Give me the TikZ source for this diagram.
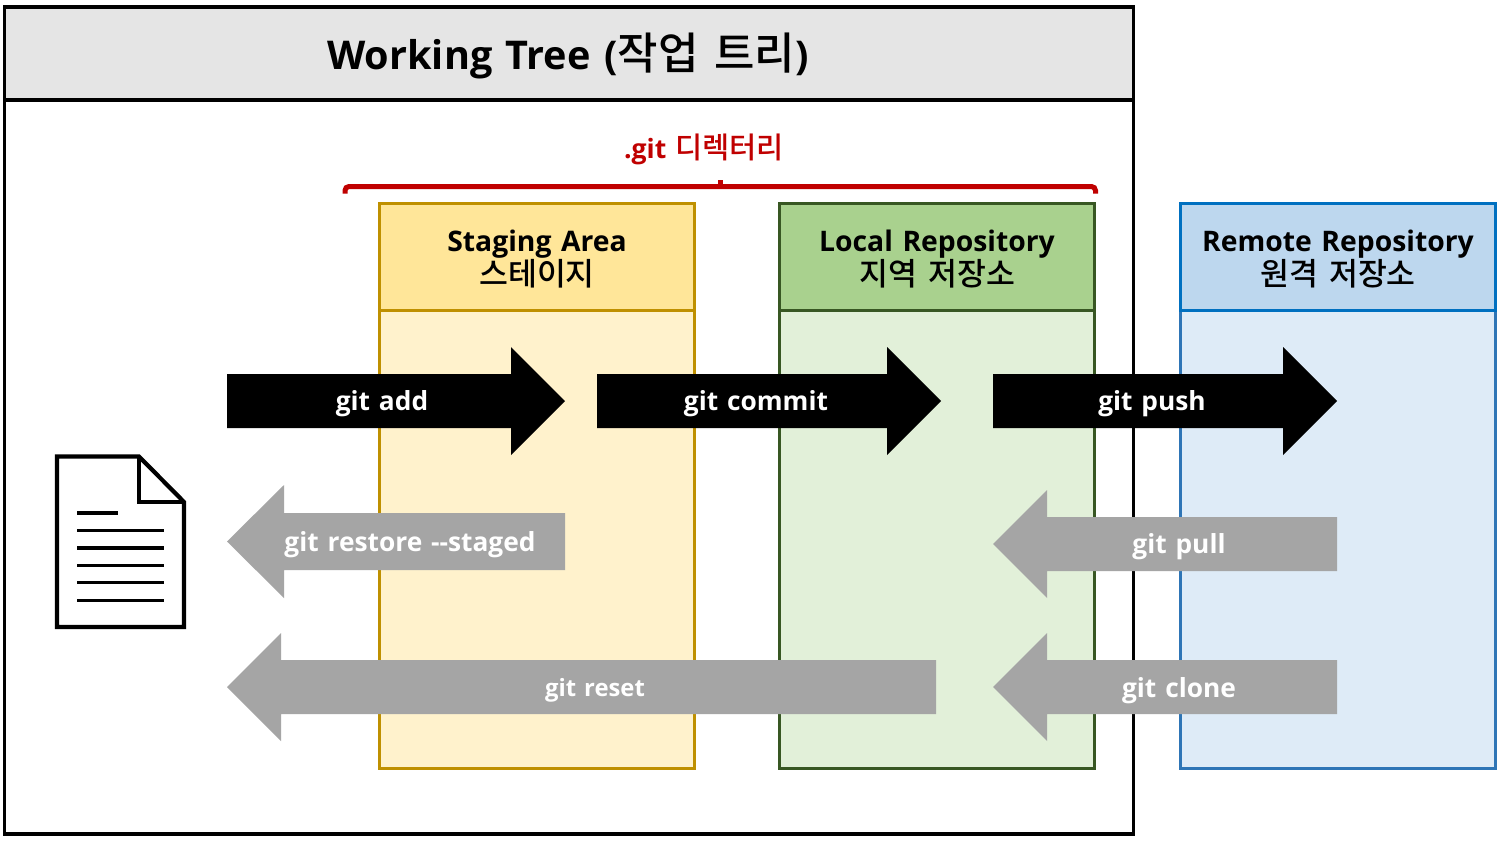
\documentclass[tikz,border=0pt]{standalone}
\usepackage{fontspec}
\setmainfont{Open Sans}[WordSpace=1.3]
\newfontfamily\kr{Noto Sans CJK KR}[Scale=1.11,WordSpace=1.6,BoldFont={Noto Sans CJK KR Medium}]
\definecolor{hdgray}{HTML}{E5E5E5}
\definecolor{sthd}{HTML}{FFE699}\definecolor{stbd}{HTML}{FFF2CC}\definecolor{stln}{HTML}{BF9000}
\definecolor{lohd}{HTML}{A9D18E}\definecolor{lobd}{HTML}{E2F0D9}\definecolor{loln}{HTML}{385723}
\definecolor{rehd}{HTML}{BDD7EE}\definecolor{rebd}{HTML}{DEEBF7}\definecolor{reln}{HTML}{2E75B6}\definecolor{rehl}{HTML}{0070C0}
\definecolor{redc}{HTML}{C00000}\definecolor{arrgray}{HTML}{A5A5A5}
\tikzset{
 x=1pt,y=-1pt,
 framebox/.style={draw,line width=3.4pt,inner sep=0pt},
 hdtext/.style={font=\fontsize{28.3}{33.5}\selectfont\bfseries,align=center,text=black,inner sep=0pt},
 arrlabel/.style={font=\fontsize{26.3}{30}\selectfont\bfseries,text=white,inner sep=0pt},
 blackarrow/.style={fill=black},
 grayarrow/.style={fill=arrgray},
 docline/.style={draw=black,line width=4.2pt,miter limit=10},
 textline/.style={draw=black,line width=3.8pt}
}
\begin{document}
\begin{tikzpicture}
\useasboundingbox (0,0) rectangle (1500,841);
\fill[white] (0,0) rectangle (1500,841);
% working tree
\draw[framebox,draw=black,fill=white] (4.5,7) rectangle (1133.5,834);
\draw[framebox,draw=black,fill=hdgray] (4.5,7) rectangle (1133.5,100);
\node[inner sep=0pt,font=\fontsize{39.6}{48}\selectfont\bfseries] (wt) at (568,55.5) {Working Tree ({\kr 작업 트리})};
% git bracket
\node[inner sep=0pt,text=redc,font=\fontsize{26.6}{30}\selectfont\bfseries] (gitdir) at (704,149) {.git {\kr 디렉터리}};
\draw[redc,line width=5pt,rounded corners=4pt] (345,193.5) -- (345,186.5) -- (1095.5,186.5) -- (1095.5,193.5);
\draw[redc,line width=5pt] (720,180) -- (720,186);
% staging
\draw[framebox,draw=stln,fill=stbd] (379.5,203.5) rectangle (694.5,768.5);
\draw[framebox,draw=stln,fill=sthd] (379.5,203.5) rectangle (694.5,310.5);
\node[hdtext] (st) at (537,259) {Staging Area\\{\kr 스테이지}};
% local
\draw[framebox,draw=loln,fill=lobd] (779.5,203.5) rectangle (1094.5,768.5);
\draw[framebox,draw=loln,fill=lohd] (779.5,203.5) rectangle (1094.5,310.5);
\node[hdtext] (lo) at (937,259) {Local Repository\\{\kr 지역 저장소}};
% remote
\draw[framebox,draw=reln,fill=rebd] (1180.5,203.5) rectangle (1495.5,768.5);
\draw[framebox,draw=rehl,fill=rehd] (1180.5,203.5) rectangle (1495.5,310.5);
\node[hdtext] (re) at (1338,259) {Remote Repository\\{\kr 원격 저장소}};
% document icon
\draw[docline,fill=white] (57,456.5) -- (139,456.5) -- (184,502) -- (184,627) -- (57,627) -- cycle;
\draw[docline] (139,456.5) -- (139,502) -- (184,502);
\draw[textline] (77,513) -- (118,513);
\foreach \yy in {530.5,548,565.5,582.5,600.5}{\draw[textline] (77,\yy) -- (164,\yy);}
% forward arrows
\fill[blackarrow] (227,374) -- (511,374) -- (511,347) -- (565,401) -- (511,455) -- (511,428) -- (227,428) -- cycle;
\node[arrlabel] (add) at (382,404) {git add};
\fill[blackarrow] (597,374) -- (887,374) -- (887,347) -- (941,401) -- (887,455) -- (887,428) -- (597,428) -- cycle;
\node[arrlabel] (commit) at (756,404) {git commit};
\fill[blackarrow] (993,374) -- (1283,374) -- (1283,347) -- (1337,401) -- (1283,455) -- (1283,428) -- (993,428) -- cycle;
\node[arrlabel] (push) at (1152,404) {git push};
% backward arrows
\fill[grayarrow] (565,513) -- (284,513) -- (284,485) -- (227,541.5) -- (284,598) -- (284,570) -- (565,570) -- cycle;
\node[arrlabel] (restore) at (410,545) {git restore {-}{-}staged};
\fill[grayarrow] (1337,517) -- (1047,517) -- (1047,490) -- (993,544) -- (1047,598) -- (1047,571) -- (1337,571) -- cycle;
\node[arrlabel] (pull) at (1179,547) {git pull};
\fill[grayarrow] (936,660) -- (281,660) -- (281,633) -- (227,687) -- (281,741) -- (281,714) -- (936,714) -- cycle;
\node[arrlabel,font=\fontsize{23.8}{30}\selectfont\bfseries] (reset) at (595,690) {git reset};
\fill[grayarrow] (1337,660) -- (1047,660) -- (1047,633) -- (993,687) -- (1047,741) -- (1047,714) -- (1337,714) -- cycle;
\node[arrlabel] (clone) at (1179,691) {git clone};
\end{tikzpicture}
\end{document}
